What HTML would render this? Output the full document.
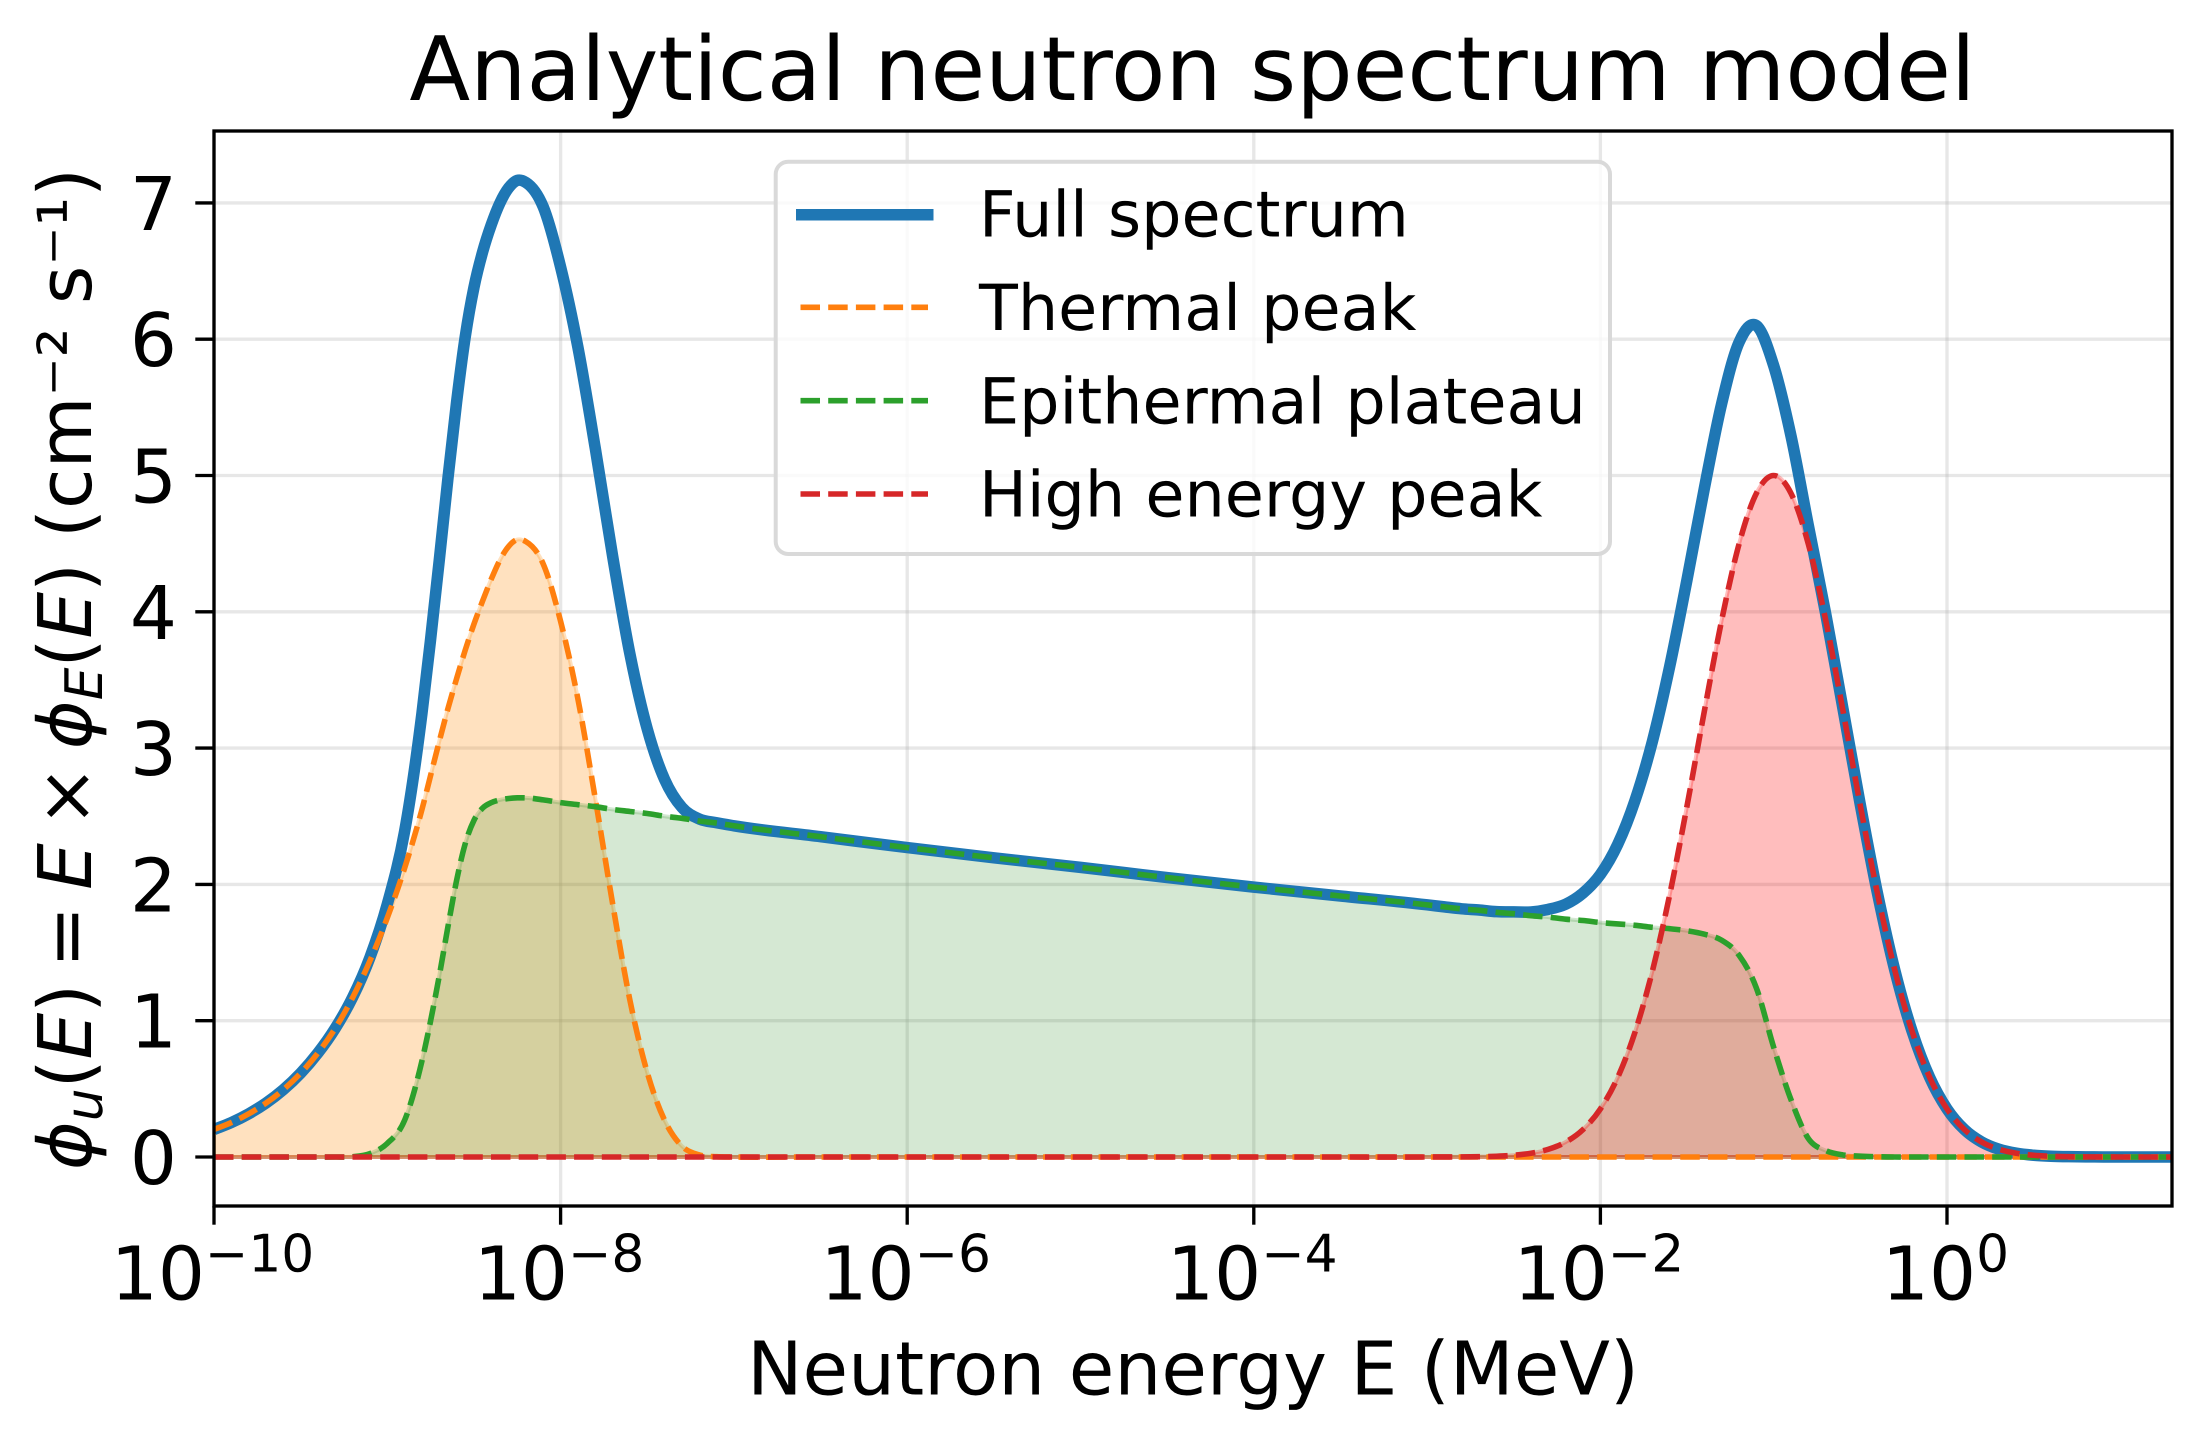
<!DOCTYPE html>
<html lang="en">
<head>
<meta charset="utf-8">
<title>Analytical neutron spectrum model</title>
<style>
html,body{margin:0;padding:0;background:#fff;}
svg{display:block;}
text{font-family:"DejaVu Sans","Liberation Sans",sans-serif;fill:#000;text-rendering:geometricPrecision;}
</style>
</head>
<body>
<svg id="chart" xmlns="http://www.w3.org/2000/svg" width="2202" height="1432" viewBox="0 0 2202 1432">
  <defs><clipPath id="plot-clip"><rect x="214" y="131" width="1958" height="1075"/></clipPath></defs>
  <rect width="2202" height="1432" fill="#fff"/>
  <g id="grid"></g>
  <g id="fills" clip-path="url(#plot-clip)"></g>
  <g id="lines" clip-path="url(#plot-clip)"></g>
  <g id="ticks"></g>
  <rect x="214" y="131" width="1958" height="1075" fill="none" stroke="#000" stroke-width="3.33"/>

  <text x="1192.5" y="100" font-size="88.9" text-anchor="middle">Analytical neutron spectrum model</text>
  <text x="1193" y="1394.7" font-size="74.1" text-anchor="middle">Neutron energy E (MeV)</text>
  <text transform="translate(91,669) rotate(-90)" font-size="74" text-anchor="middle"><tspan font-style="italic">ϕ</tspan><tspan font-style="italic" font-size="51.8" dy="11">u</tspan><tspan dy="-11">(</tspan><tspan font-style="italic">E</tspan><tspan>)</tspan><tspan dx="16">=</tspan><tspan dx="16" font-style="italic">E</tspan><tspan dx="16">×</tspan><tspan dx="16" font-style="italic">ϕ</tspan><tspan font-style="italic" font-size="51.8" dy="11">E</tspan><tspan dy="-11">(</tspan><tspan font-style="italic">E</tspan><tspan>)</tspan><tspan dx="25">(cm⁻² s⁻¹)</tspan></text>

  <g>
    <rect x="775.7" y="161.7" width="834.3" height="392.3" rx="12.5" ry="12.5" fill="#fff" fill-opacity="0.8" stroke="#d9d9d9" stroke-width="4"/>
    <line x1="796" y1="214.7" x2="933.5" y2="214.7" stroke="#1f77b4" stroke-width="11.5"/>
    <text x="979" y="236.7" font-size="63.6">Full spectrum</text>
    <line x1="800.5" y1="307.3" x2="928" y2="307.3" stroke="#ff7f0e" stroke-width="5.6" stroke-dasharray="19.5 8.2"/>
    <text x="979" y="330" font-size="63.6">Thermal peak</text>
    <line x1="800.5" y1="400.7" x2="928" y2="400.7" stroke="#2ca02c" stroke-width="5.6" stroke-dasharray="19.5 8.2"/>
    <text x="979" y="423.4" font-size="63.6">Epithermal plateau</text>
    <line x1="800.5" y1="494" x2="928" y2="494" stroke="#d62728" stroke-width="5.6" stroke-dasharray="19.5 8.2"/>
    <text x="979" y="516.7" font-size="63.6">High energy peak</text>
  </g>
</svg>
<script>
// Shared energy grid: log10(E / MeV)
const logEnergy = [
  -10,-9.9,-9.8,-9.7,-9.6,-9.5,-9.4,-9.3,-9.2,-9.1,
  -9,-8.9,-8.8,-8.75,-8.7,-8.65,-8.6,-8.55,-8.5,-8.45,-8.4,-8.35,
  -8.3,-8.25,-8.2,-8.1,-8,-7.9,-7.8,-7.7,-7.6,-7.5,-7.4,-7.3,-7.2,-7.1,
  -7,-6.5,-6,-5.5,-5,-4.5,-4,-3.5,
  -3,-2.9,-2.8,-2.7,-2.6,-2.5,-2.4,-2.3,-2.2,-2.1,-2,-1.9,-1.8,-1.7,-1.6,-1.5,-1.4,-1.3,-1.2,-1.1,
  -1,-0.9,-0.8,-0.7,-0.6,-0.5,-0.4,-0.3,-0.2,-0.1,
  0,0.1,0.2,0.3,0.4,0.5,0.6,0.7,0.8,0.9,1,1.1,1.2,1.3
];
const fullSpectrum = [
  0.2016,0.2527,0.3165,0.3956,0.4938,0.615,0.7637,0.9451,1.172,1.465,
  1.855,2.39,3.255,3.80,4.38,4.98,5.54,6.02,6.38,6.64,6.84,7.0,
  7.11,7.165,7.15,6.97,6.53,5.94,5.2,4.41,3.69,3.14,2.77,2.565,2.48,2.452,
  2.43,2.35,2.27,2.195,2.125,2.05,1.98,1.915,
  1.85,1.835,1.821,1.812,1.80,1.798,1.798,1.817,1.855,1.937,2.073,2.294,2.617,3.049,3.60,4.237,4.907,5.529,5.977,6.10,
  5.805,5.289,4.632,3.986,3.287,2.583,1.927,1.364,0.917,0.584,
  0.353,0.202,0.110,0.0567,0.0277,0.0128,0.0056,0.0024,0.0009,0.0004,0.0001,0,0,0
];
const thermalPeak = [
  0.2016,0.2527,0.3165,0.3956,0.4938,0.615,0.7637,0.9451,1.17,1.44,
  1.755,2.12,2.55,2.80,3.05,3.29,3.51,3.72,3.91,4.08,4.24,4.38,
  4.48,4.53,4.515,4.35,3.93,3.36,2.63,1.86,1.15,0.62,0.27,0.08,0.015,0.002,
  0,0,0,0,0,0,0,0,
  0,0,0,0,0,0,0,0,0,0,0,0,0,0,0,0,0,0,0,0,
  0,0,0,0,0,0,0,0,0,0,
  0,0,0,0,0,0,0,0,0,0,0,0,0,0
];
const epithermalPlateau = [
  0,0,0,0,0,0,0,0,0.002,0.025,
  0.10,0.27,0.705,1.0,1.33,1.69,2.03,2.30,2.47,2.56,2.60,2.62,
  2.63,2.635,2.635,2.62,2.60,2.585,2.57,2.55,2.535,2.52,2.50,2.485,2.465,2.45,
  2.43,2.35,2.27,2.195,2.125,2.05,1.98,1.915,
  1.85,1.835,1.82,1.81,1.795,1.785,1.77,1.76,1.745,1.735,1.72,1.71,1.70,1.685,1.675,1.66,1.635,1.59,1.48,1.24,
  0.805,0.42,0.135,0.047,0.015,0.006,0.002,0,0,0,
  0,0,0,0,0,0,0,0,0,0,0,0,0,0
];
const highEnergyPeak = [
  0,0,0,0,0,0,0,0,0,0,
  0,0,0,0,0,0,0,0,0,0,0,0,
  0,0,0,0,0,0,0,0,0,0,0,0,0,0,
  0,0,0,0,0,0,0,0,
  0,0.0004,0.0009,0.0024,0.0056,0.0128,0.0277,0.0567,0.110,0.202,0.353,0.584,0.917,1.364,1.925,2.577,3.272,3.939,4.497,4.869,
  5,4.869,4.497,3.939,3.272,2.577,1.925,1.364,0.917,0.584,
  0.353,0.202,0.110,0.0567,0.0277,0.0128,0.0056,0.0024,0.0009,0.0004,0.0001,0,0,0
];
const xTickExponents = [-10,-8,-6,-4,-2,0];
const xTickLabels = ["−10","−8","−6","−4","−2","0"];
const yTickValues = [0,1,2,3,4,5,6,7];
const yTickLabels = ["0","1","2","3","4","5","6","7"];

const SVG_NS = "http://www.w3.org/2000/svg";
const plot = {left:214, right:2172, top:131, bottom:1206};
function xScale(logE){ return plot.left + (logE + 10) * 173.3; }
function yScale(v){ return 1157 - 136.3 * v; }

function curveSegments(values){
  const xs = logEnergy.map(xScale);
  const ys = values.map(yScale);
  const n = xs.length;
  const slope = [];
  for(let i=0;i<n;i++){
    if(i===0){ slope.push((ys[1]-ys[0])/(xs[1]-xs[0])); continue; }
    if(i===n-1){ slope.push((ys[n-1]-ys[n-2])/(xs[n-1]-xs[n-2])); continue; }
    const h0 = xs[i]-xs[i-1], h1 = xs[i+1]-xs[i];
    const d0 = (ys[i]-ys[i-1])/h0, d1 = (ys[i+1]-ys[i])/h1;
    slope.push((h0*d1+h1*d0)/(h0+h1));
  }
  let d = "M" + xs[0].toFixed(2) + " " + ys[0].toFixed(2);
  for(let i=0;i<n-1;i++){
    const h = (xs[i+1]-xs[i])/3;
    d += "C" + (xs[i]+h).toFixed(2) + " " + (ys[i]+h*slope[i]).toFixed(2) + " " +
         (xs[i+1]-h).toFixed(2) + " " + (ys[i+1]-h*slope[i+1]).toFixed(2) + " " +
         xs[i+1].toFixed(2) + " " + ys[i+1].toFixed(2);
  }
  return d;
}
function fillOutline(values){
  const base = yScale(0).toFixed(2);
  const first = xScale(logEnergy[0]).toFixed(2);
  const last = xScale(logEnergy[logEnergy.length-1]).toFixed(2);
  return curveSegments(values) + "L" + last + " " + base + "L" + first + " " + base + "Z";
}

const gridG = document.getElementById("grid");
const fillsG = document.getElementById("fills");
const linesG = document.getElementById("lines");
const ticksG = document.getElementById("ticks");

// grid + ticks: x axis
xTickExponents.forEach(function(exp,i){
  const x = xScale(exp);
  const g = document.createElementNS(SVG_NS,"line");
  g.setAttribute("x1",x); g.setAttribute("x2",x);
  g.setAttribute("y1",plot.top); g.setAttribute("y2",plot.bottom);
  g.setAttribute("stroke","#b0b0b0"); g.setAttribute("stroke-opacity","0.3"); g.setAttribute("stroke-width","3.33");
  
  
  gridG.appendChild(g);

  const t = document.createElementNS(SVG_NS,"line");
  t.setAttribute("x1",x); t.setAttribute("x2",x);
  t.setAttribute("y1",plot.bottom); t.setAttribute("y2",plot.bottom+18.7);
  t.setAttribute("stroke","#000"); t.setAttribute("stroke-width","3.33");
  
  
  ticksG.appendChild(t);

  const label = document.createElementNS(SVG_NS,"text");
  label.setAttribute("x",x-1.5);
  label.setAttribute("y",1299.7);
  label.setAttribute("font-size","74");
  label.setAttribute("text-anchor","middle");
  
  
  const base = document.createElementNS(SVG_NS,"tspan");
  base.textContent = "10";
  const sup = document.createElementNS(SVG_NS,"tspan");
  sup.setAttribute("font-size","51.8");
  sup.setAttribute("dy","-28");
  sup.textContent = xTickLabels[i];
  label.appendChild(base);
  label.appendChild(sup);
  ticksG.appendChild(label);
});

// grid + ticks: y axis
yTickValues.forEach(function(v,i){
  const y = yScale(v);
  const g = document.createElementNS(SVG_NS,"line");
  g.setAttribute("x1",plot.left); g.setAttribute("x2",plot.right);
  g.setAttribute("y1",y); g.setAttribute("y2",y);
  g.setAttribute("stroke","#b0b0b0"); g.setAttribute("stroke-opacity","0.3"); g.setAttribute("stroke-width","3.33");
  
  
  gridG.appendChild(g);

  const t = document.createElementNS(SVG_NS,"line");
  t.setAttribute("x1",plot.left-18.7); t.setAttribute("x2",plot.left);
  t.setAttribute("y1",y); t.setAttribute("y2",y);
  t.setAttribute("stroke","#000"); t.setAttribute("stroke-width","3.33");
  
  
  ticksG.appendChild(t);

  const label = document.createElementNS(SVG_NS,"text");
  label.setAttribute("x",177);
  label.setAttribute("y",y+27);
  label.setAttribute("font-size","74");
  label.setAttribute("text-anchor","end");
  
  
  label.textContent = yTickLabels[i];
  ticksG.appendChild(label);
});

// shaded areas
const thermalFill = document.createElementNS(SVG_NS,"path");
thermalFill.setAttribute("d",fillOutline(thermalPeak));
thermalFill.setAttribute("fill","rgba(255,135,0,0.25)");
thermalFill.setAttribute("stroke","rgba(255,135,0,0.25)");
thermalFill.setAttribute("stroke-width","4");


fillsG.appendChild(thermalFill);

const epithermalFill = document.createElementNS(SVG_NS,"path");
epithermalFill.setAttribute("d",fillOutline(epithermalPlateau));
epithermalFill.setAttribute("fill","rgba(44,140,36,0.2)");
epithermalFill.setAttribute("stroke","rgba(44,140,36,0.2)");
epithermalFill.setAttribute("stroke-width","4");


fillsG.appendChild(epithermalFill);

const highFill = document.createElementNS(SVG_NS,"path");
highFill.setAttribute("d",fillOutline(highEnergyPeak));
highFill.setAttribute("fill","rgba(255,0,0,0.26)");
highFill.setAttribute("stroke","rgba(255,0,0,0.26)");
highFill.setAttribute("stroke-width","4");


fillsG.appendChild(highFill);

// lines
const fullLine = document.createElementNS(SVG_NS,"path");
fullLine.setAttribute("d",curveSegments(fullSpectrum));
fullLine.setAttribute("fill","none");
fullLine.setAttribute("stroke","#1f77b4");
fullLine.setAttribute("stroke-width","11.5");
fullLine.setAttribute("stroke-linejoin","round");


linesG.appendChild(fullLine);

const thermalLine = document.createElementNS(SVG_NS,"path");
thermalLine.setAttribute("d",curveSegments(thermalPeak));
thermalLine.setAttribute("fill","none");
thermalLine.setAttribute("stroke","#ff7f0e");
thermalLine.setAttribute("stroke-width","5.6");
thermalLine.setAttribute("stroke-dasharray","19.5 8.2");


linesG.appendChild(thermalLine);

const epithermalLine = document.createElementNS(SVG_NS,"path");
epithermalLine.setAttribute("d",curveSegments(epithermalPlateau));
epithermalLine.setAttribute("fill","none");
epithermalLine.setAttribute("stroke","#2ca02c");
epithermalLine.setAttribute("stroke-width","5.6");
epithermalLine.setAttribute("stroke-dasharray","19.5 8.2");


linesG.appendChild(epithermalLine);

const highLine = document.createElementNS(SVG_NS,"path");
highLine.setAttribute("d",curveSegments(highEnergyPeak));
highLine.setAttribute("fill","none");
highLine.setAttribute("stroke","#d62728");
highLine.setAttribute("stroke-width","5.6");
highLine.setAttribute("stroke-dasharray","19.5 8.2");


linesG.appendChild(highLine);
</script>
</body>
</html>
